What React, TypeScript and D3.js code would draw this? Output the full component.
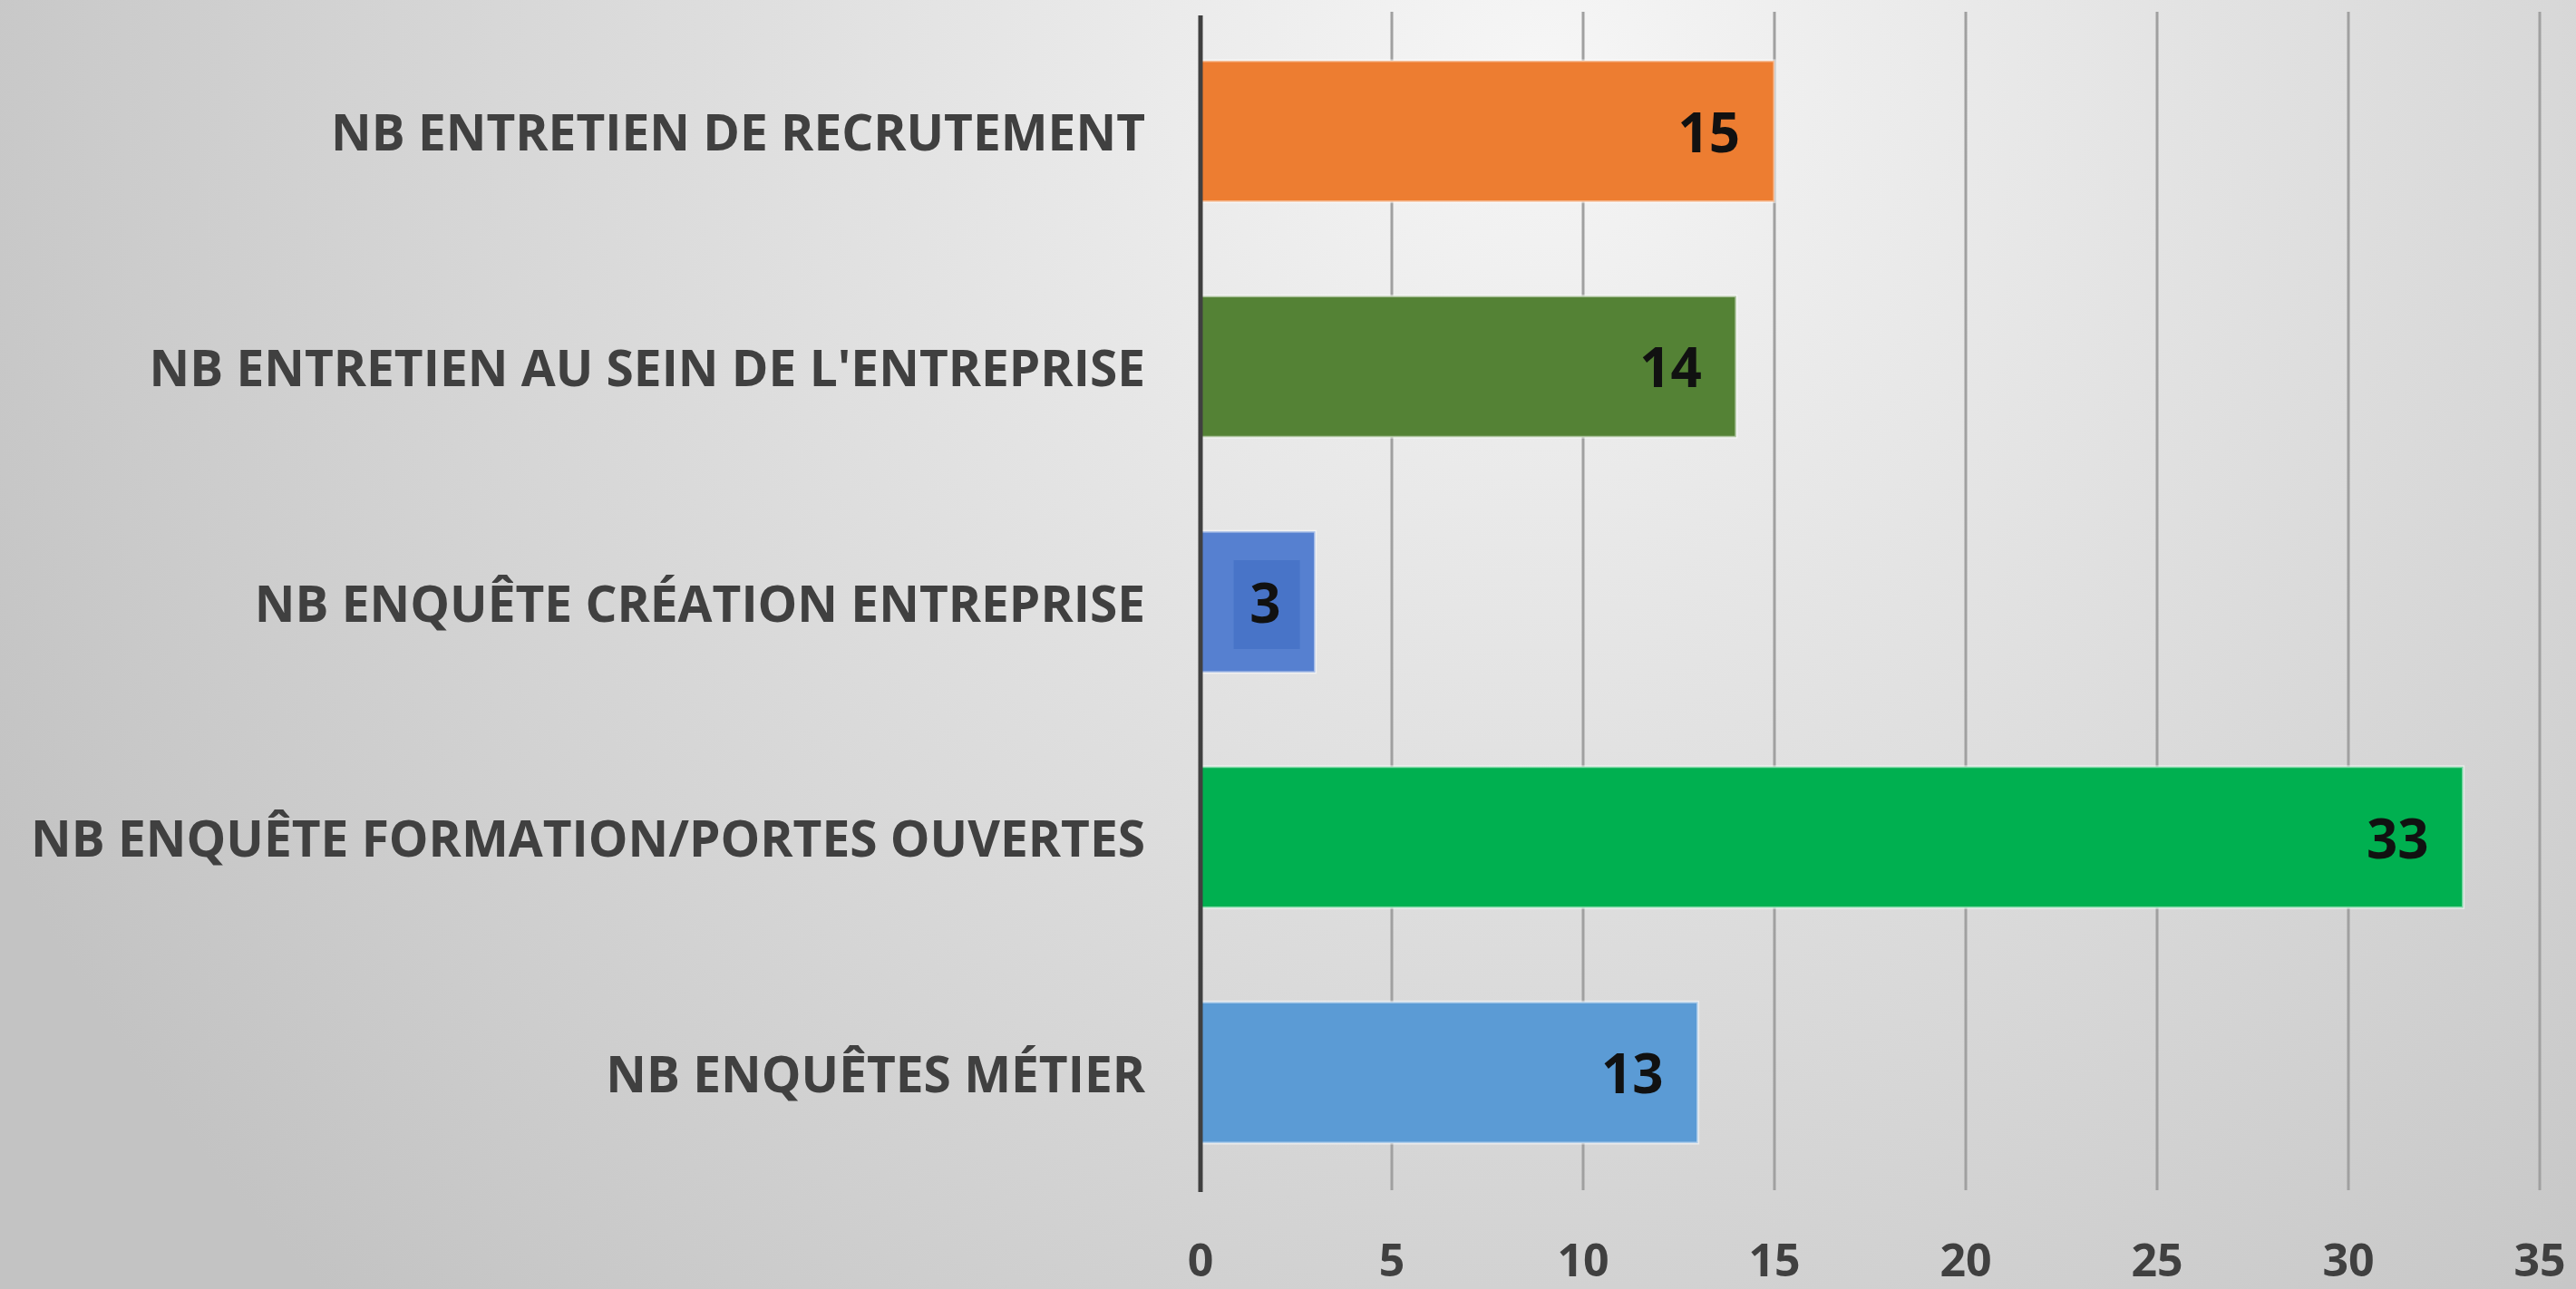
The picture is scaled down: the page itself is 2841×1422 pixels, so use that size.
import React from 'react';
import * as d3 from 'd3';

const categories = [
  'NB ENTRETIEN DE RECRUTEMENT',
  "NB ENTRETIEN AU SEIN DE L'ENTREPRISE",
  'NB ENQUÊTE CRÉATION ENTREPRISE',
  'NB ENQUÊTE FORMATION/PORTES OUVERTES',
  'NB ENQUÊTES MÉTIER',
];
const values = [15, 14, 3, 33, 13];
const barColors = ['#ED7D31', '#548235', '#5680D0', '#00B050', '#5B9BD5'];
const ticks = [0, 5, 10, 15, 20, 25, 30, 35];

const W = 2841;
const H = 1422;
const font = "'Open Sans', sans-serif";

export default function App() {
  const x = d3.scaleLinear().domain([0, 35]).range([1324, 2801]);
  const y = d3.scaleBand().domain(categories).range([15, 1313]).paddingInner(0.4).paddingOuter(0.2);

  return (
    <div style={{ position: 'fixed', left: 0, top: 0 }}>
      <svg width={W} height={H}>
        <defs>
          <radialGradient id="bg" gradientUnits="userSpaceOnUse" cx={1700} cy={80} r={1900}>
            <stop offset="0" stopColor="#f6f6f6" />
            <stop offset="1" stopColor="#c3c3c3" />
          </radialGradient>
        </defs>
        <rect x={0} y={0} width={W} height={H} fill="url(#bg)" />

        {ticks.slice(1).map(t => (
          <line key={t} x1={x(t)} x2={x(t)} y1={13} y2={1313} stroke="#a0a0a0" strokeWidth={3} />
        ))}

        {categories.map((c, i) => {
          const cy = (y(c) as number) + y.bandwidth() / 2;
          const lx = x(values[i]) - 38;
          return (
            <g key={c}>
              <rect
                x={x(0)}
                y={y(c)}
                width={x(values[i]) - x(0)}
                height={y.bandwidth()}
                fill={barColors[i]}
                stroke="#ffffff"
                strokeOpacity={0.5}
                strokeWidth={3}
              />
              {values[i] < 5 && (
                <rect x={lx - 52} y={cy - 46} width={73} height={98} fill="#4874C8" />
              )}
              <text
                x={lx}
                y={cy}
                textAnchor="end"
                dominantBaseline="central"
                fontFamily={font}
                fontWeight={700}
                fontSize={60}
                fill="#111111"
              >
                {values[i]}
              </text>
              <text
                x={1263}
                y={cy}
                textAnchor="end"
                dominantBaseline="central"
                fontFamily={font}
                fontWeight={700}
                fontSize={55}
                fill="#404040"
              >
                {c}
              </text>
            </g>
          );
        })}

        <line x1={x(0)} x2={x(0)} y1={17} y2={1315} stroke="#404040" strokeWidth={5} />

        {ticks.map(t => (
          <text
            key={t}
            x={x(t)}
            y={1408}
            textAnchor="middle"
            fontFamily={font}
            fontWeight={700}
            fontSize={50}
            fill="#404040"
          >
            {t}
          </text>
        ))}
      </svg>
    </div>
  );
}
